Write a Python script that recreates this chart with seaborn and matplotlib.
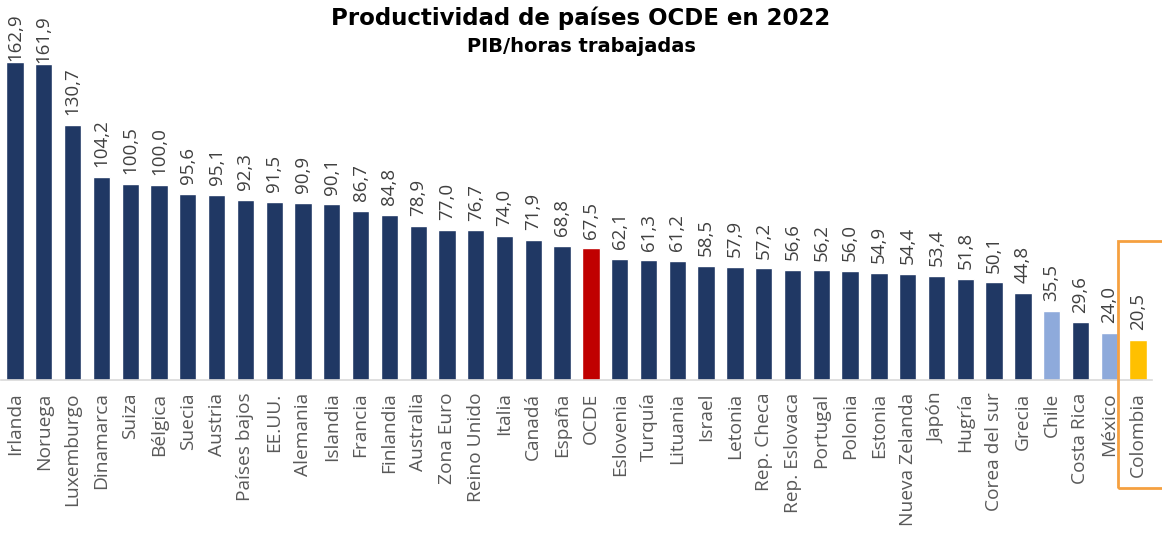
import pandas as pd
import seaborn as sns
import matplotlib.pyplot as plt
from matplotlib.patches import Rectangle

# Datos: productividad (PIB/horas trabajadas) 2022
paises = ['Irlanda', 'Noruega', 'Luxemburgo', 'Dinamarca', 'Suiza', 'Bélgica',
          'Suecia', 'Austria', 'Países bajos', 'EE.UU.', 'Alemania', 'Islandia',
          'Francia', 'Finlandia', 'Australia', 'Zona Euro', 'Reino Unido', 'Italia',
          'Canadá', 'España', 'OCDE', 'Eslovenia', 'Turquía', 'Lituania', 'Israel',
          'Letonia', 'Rep. Checa', 'Rep. Eslovaca', 'Portugal', 'Polonia', 'Estonia',
          'Nueva Zelanda', 'Japón', 'Hugría', 'Corea del sur', 'Grecia', 'Chile',
          'Costa Rica', 'México', 'Colombia']
valores = [162.9, 161.9, 130.7, 104.2, 100.5, 100.0, 95.6, 95.1, 92.3, 91.5,
           90.9, 90.1, 86.7, 84.8, 78.9, 77.0, 76.7, 74.0, 71.9, 68.8,
           67.5, 62.1, 61.3, 61.2, 58.5, 57.9, 57.2, 56.6, 56.2, 56.0,
           54.9, 54.4, 53.4, 51.8, 50.1, 44.8, 35.5, 29.6, 24.0, 20.5]

azul = '#203864'
destacados = {'OCDE': '#c00000', 'Chile': '#8eaadb', 'México': '#8eaadb',
              'Colombia': '#ffc000'}
colores = [destacados.get(p, azul) for p in paises]

df = pd.DataFrame({'pais': paises, 'valor': valores})

sns.set_style('white')
plt.rcParams['font.family'] = ['Open Sans', 'DejaVu Sans']

fig = plt.figure(figsize=(11.62, 5.36), dpi=100)
ax = fig.add_axes([0.0005, 0.291, 0.9913, 0.655])

sns.barplot(data=df, x='pais', y='valor', hue='pais', palette=colores,
            legend=False, width=0.6, saturation=1, ax=ax)

ax.set_xlim(-0.5, len(paises) - 0.5)
ax.set_ylim(0, 180)
ax.set_xlabel('')
ax.set_ylabel('')
ax.set_yticks([])
ax.tick_params(axis='x', length=0, pad=9)
plt.setp(ax.get_xticklabels(), rotation=90, fontsize=13.8, color='#595959')
for s in ['top', 'left', 'right']:
    ax.spines[s].set_visible(False)
ax.spines['bottom'].set_color('#d9d9d9')
ax.spines['bottom'].set_linewidth(1.2)

# etiquetas de valor (se recortan arriba como en el original)
for i, v in enumerate(valores):
    off = 1 if v > 150 else 7
    ax.annotate(f'{v:.1f}'.replace('.', ','), (i, v), xytext=(0, off),
                textcoords='offset points', rotation=90, ha='center', va='bottom',
                fontsize=13.5, color='#404040', annotation_clip=False, clip_on=False)

fig.text(0.5, 0.966, 'Productividad de países OCDE en 2022', ha='center', va='center',
         fontsize=16.5, fontweight='bold', color='black', family='DejaVu Sans')
fig.text(0.5, 0.914, 'PIB/horas trabajadas', ha='center', va='center',
         fontsize=14, fontweight='bold', color='black', family='DejaVu Sans')

# recuadro naranja para Colombia
fig.patches.append(Rectangle((1118 / 1162, (536 - 488) / 536), 0.06, (488 - 241) / 536,
                             transform=fig.transFigure, fill=False,
                             edgecolor='#f5a040', linewidth=2))

fig.savefig('out.png', dpi=100)
